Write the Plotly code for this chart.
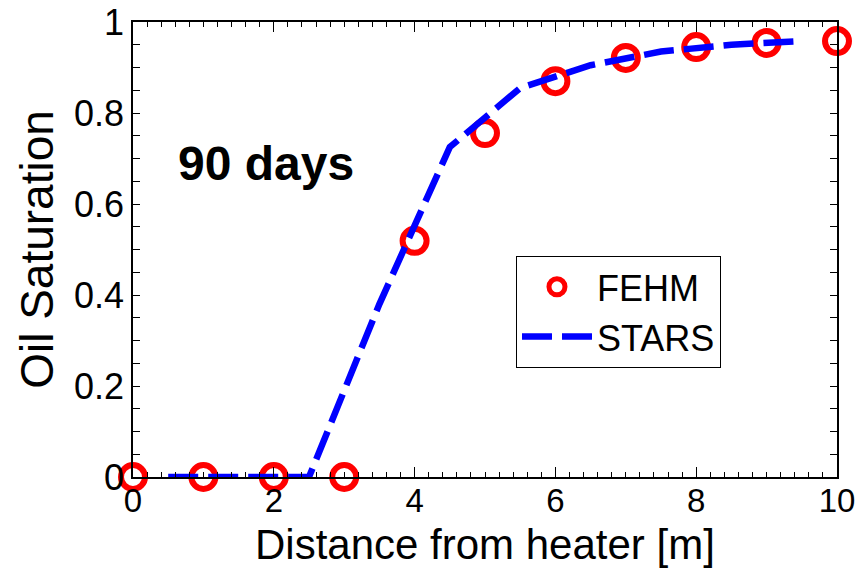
import plotly.graph_objects as go

# FEHM data (markers)
fehm_x = [0, 1, 2, 3, 4, 5, 6, 7, 8, 9, 10]
fehm_y = [0.0, 0.0, 0.0, 0.0, 0.519, 0.756, 0.870, 0.921, 0.945, 0.954, 0.958]

# STARS data (dashed line)
stars_x = [0.5, 1.5, 2.5, 3.5, 4.5, 5.5, 6.5, 7.5, 8.5, 9.5]
stars_y = [0.0, 0.0, 0.0, 0.38, 0.725, 0.855, 0.905, 0.935, 0.950, 0.958]

x_ticks = [0, 2, 4, 6, 8, 10]
y_ticks = [0, 0.2, 0.4, 0.6, 0.8, 1]
y_tick_labels = ["0", "0.2", "0.4", "0.6", "0.8", "1"]

FONT = "Liberation Sans, Arial, sans-serif"

fig = go.Figure()
fig.add_trace(go.Scatter(
    x=fehm_x, y=fehm_y, mode="markers", name="FEHM",
    marker=dict(symbol="circle-open", size=24, color="#FF0000",
                line=dict(width=6, color="#FF0000")),
    cliponaxis=False,
))
fig.add_trace(go.Scatter(
    x=stars_x, y=stars_y, mode="lines", name="STARS",
    line=dict(color="#0000FF", width=6.5, dash="30px,10px"),
    cliponaxis=False,
))

fig.add_annotation(
    x=1.89, y=0.69, xref="x", yref="y", text="<b>90 days</b>",
    showarrow=False, font=dict(family=FONT, size=48, color="black"),
)

# x-axis title placed at the bottom edge of the figure
fig.add_annotation(
    x=0.5, y=0, xref="paper", yref="paper", yanchor="bottom", yshift=-93,
    text="Distance from heater [m]", showarrow=False,
    font=dict(family=FONT, size=42, color="black"),
)

axis_common = dict(
    showline=True, linecolor="black", linewidth=1.5, mirror="allticks",
    ticks="inside", tickcolor="black", showgrid=False, zeroline=False,
    automargin=False,
)

fig.update_xaxes(
    range=[0, 10], tickvals=x_ticks, ticklen=10, tickwidth=1,
    tickfont=dict(family=FONT, size=33, color="black"),
    ticklabelstandoff=-6,
    minor=dict(dtick=0.2, ticks="inside", ticklen=5, tickcolor="black", tickwidth=1, showgrid=False),
    **axis_common,
)
fig.update_yaxes(
    range=[0, 1], tickvals=y_ticks, ticktext=y_tick_labels, ticklen=7, tickwidth=1,
    tickfont=dict(family=FONT, size=36, color="black"),
    minor=dict(dtick=0.05, ticks="inside", ticklen=7, tickcolor="black", tickwidth=1, showgrid=False),
    title=dict(text="Oil Saturation", font=dict(family=FONT, size=46, color="black"), standoff=6),
    **axis_common,
)

fig.update_layout(
    width=861, height=570,
    margin=dict(l=133, r=24, t=22, b=93),
    plot_bgcolor="white", paper_bgcolor="white",
    showlegend=True,
    legend=dict(
        x=0.544, y=0.486, xanchor="left", yanchor="top",
        bgcolor="white", bordercolor="black", borderwidth=1,
        font=dict(family=FONT, size=36, color="black"),
        itemwidth=70,
    ),
)

fig.write_html("out.html")
